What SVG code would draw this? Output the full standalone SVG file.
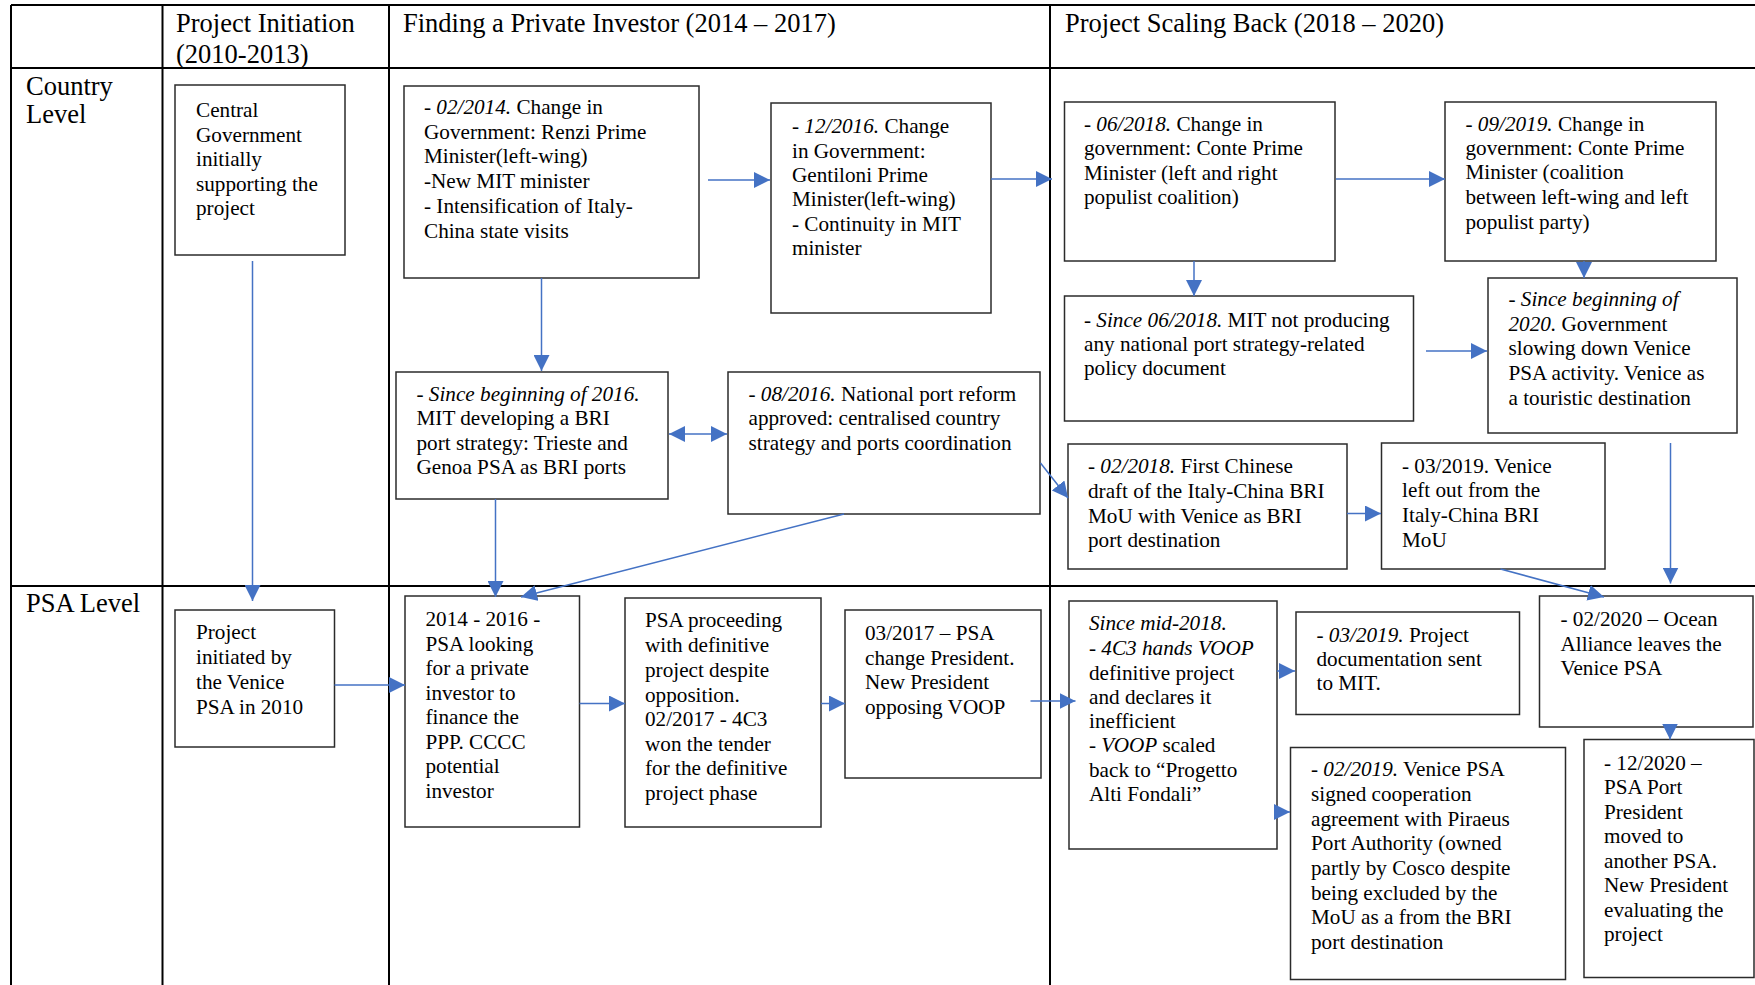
<svg xmlns="http://www.w3.org/2000/svg" width="1755" height="985" viewBox="0 0 1755 985">
<style>
.grid{stroke:#000;stroke-width:2;fill:none}
.box{fill:#fff;stroke:#2b2b2b;stroke-width:1.5}
.hd{font-family:"Liberation Serif","Times New Roman",serif;font-size:26.5px;fill:#000}
.t{font-family:"Liberation Serif","Times New Roman",serif;font-size:21.2px;fill:#000}
.i{font-style:italic}
.c{stroke:#4472C4;stroke-width:1.5;fill:none;marker-end:url(#ah)}
.d{stroke:#4472C4;stroke-width:1.5;fill:none;marker-end:url(#ah);marker-start:url(#ah)}
</style>
<defs>
<marker id="ah" viewBox="0 0 16 16" refX="16" refY="8" markerWidth="16" markerHeight="16" markerUnits="userSpaceOnUse" orient="auto-start-reverse">
<path d="M0,0 L16,8 L0,16 z" fill="#4472C4"/>
</marker>
</defs>
<rect width="1755" height="985" fill="#fff"/>
<g id="table">
<path class="grid" d="M11,5 H1755 M11,68 H1755 M11,586 H1755 M11,5 V985 M162.5,5 V985 M389,5 V985 M1050,5 V985"/>
<text class="hd" x="176" y="31.5">Project Initiation</text>
<text class="hd" x="176" y="62.5">(2010-2013)</text>
<text class="hd" x="403" y="31.5">Finding a Private Investor (2014 – 2017)</text>
<text class="hd" x="1065" y="31.5">Project Scaling Back (2018 – 2020)</text>
<text class="hd" x="26" y="94.5">Country</text>
<text class="hd" x="26" y="123">Level</text>
<text class="hd" x="26" y="611.5">PSA Level</text>
</g>
<g id="nodeA">
<rect class="box" x="175" y="85" width="170" height="170"/>
<text class="t"><tspan x="196" y="117">Central</tspan><tspan x="196" y="141.5">Government</tspan><tspan x="196" y="166">initially</tspan><tspan x="196" y="190.5">supporting the</tspan><tspan x="196" y="215">project</tspan></text>
</g>
<g id="nodeB">
<rect class="box" x="404" y="86" width="295" height="192"/>
<text class="t"><tspan x="424" y="114">- <tspan class="i">02/2014.</tspan> Change in</tspan><tspan x="424" y="138.5">Government: Renzi Prime</tspan><tspan x="424" y="163">Minister(left-wing)</tspan><tspan x="424" y="188">-New MIT minister</tspan><tspan x="424" y="213">- Intensification of Italy-</tspan><tspan x="424" y="237.5">China state visits</tspan></text>
</g>
<g id="nodeC">
<rect class="box" x="771" y="103" width="220" height="210"/>
<text class="t"><tspan x="792" y="133">- <tspan class="i">12/2016.</tspan> Change</tspan><tspan x="792" y="157.5">in Government:</tspan><tspan x="792" y="182">Gentiloni Prime</tspan><tspan x="792" y="206">Minister(left-wing)</tspan><tspan x="792" y="230.5">- Continuity in MIT</tspan><tspan x="792" y="255">minister</tspan></text>
</g>
<g id="nodeD">
<rect class="box" x="1064.5" y="102" width="270.5" height="159"/>
<text class="t"><tspan x="1084" y="130.5">- <tspan class="i">06/2018.</tspan> Change in</tspan><tspan x="1084" y="155">government: Conte Prime</tspan><tspan x="1084" y="180">Minister (left and right</tspan><tspan x="1084" y="204">populist coalition)</tspan></text>
</g>
<g id="nodeE">
<rect class="box" x="1445" y="102" width="271" height="159"/>
<text class="t"><tspan x="1465.5" y="130.5">- <tspan class="i">09/2019.</tspan> Change in</tspan><tspan x="1465.5" y="154.5">government: Conte Prime</tspan><tspan x="1465.5" y="179">Minister (coalition</tspan><tspan x="1465.5" y="204">between left-wing and left</tspan><tspan x="1465.5" y="228.5">populist party)</tspan></text>
</g>
<g id="nodeF">
<rect class="box" x="1064.5" y="296" width="349" height="125"/>
<text class="t"><tspan x="1084" y="326.5">- <tspan class="i">Since 06/2018.</tspan> MIT not producing</tspan><tspan x="1084" y="350.5">any national port strategy-related</tspan><tspan x="1084" y="374.5">policy document</tspan></text>
</g>
<g id="nodeG">
<rect class="box" x="1488" y="278" width="249" height="155"/>
<text class="t"><tspan x="1508.5" y="306">- <tspan class="i">Since beginning of</tspan></tspan><tspan x="1508.5" y="330.5"><tspan class="i">2020.</tspan> Government</tspan><tspan x="1508.5" y="355">slowing down Venice</tspan><tspan x="1508.5" y="380">PSA activity. Venice as</tspan><tspan x="1508.5" y="404.5">a touristic destination</tspan></text>
</g>
<g id="nodeH">
<rect class="box" x="396" y="372" width="272" height="127"/>
<text class="t"><tspan x="416.5" y="400.5">- <tspan class="i">Since beginning of 2016.</tspan></tspan><tspan x="416.5" y="425">MIT developing a BRI</tspan><tspan x="416.5" y="449.5">port strategy: Trieste and</tspan><tspan x="416.5" y="474">Genoa PSA as BRI ports</tspan></text>
</g>
<g id="nodeI">
<rect class="box" x="728" y="372" width="312" height="142"/>
<text class="t"><tspan x="748.5" y="400.5">- <tspan class="i">08/2016.</tspan> National port reform</tspan><tspan x="748.5" y="425">approved: centralised country</tspan><tspan x="748.5" y="449.5">strategy and ports coordination</tspan></text>
</g>
<g id="nodeJ">
<rect class="box" x="1068" y="444" width="279" height="125"/>
<text class="t"><tspan x="1088" y="472.5">- <tspan class="i">02/2018.</tspan> First Chinese</tspan><tspan x="1088" y="497.5">draft of the Italy-China BRI</tspan><tspan x="1088" y="522.5">MoU with Venice as BRI</tspan><tspan x="1088" y="547">port destination</tspan></text>
</g>
<g id="nodeK">
<rect class="box" x="1381.5" y="443" width="223.5" height="126"/>
<text class="t"><tspan x="1402" y="472.5">- 03/2019. Venice</tspan><tspan x="1402" y="497">left out from the</tspan><tspan x="1402" y="521.5">Italy-China BRI</tspan><tspan x="1402" y="546.5">MoU</tspan></text>
</g>
<g id="nodeL">
<rect class="box" x="175" y="610" width="159.5" height="137"/>
<text class="t"><tspan x="196" y="638.5">Project</tspan><tspan x="196" y="663.5">initiated by</tspan><tspan x="196" y="689">the Venice</tspan><tspan x="196" y="713.5">PSA in 2010</tspan></text>
</g>
<g id="nodeM">
<rect class="box" x="405" y="596" width="174.5" height="231"/>
<text class="t"><tspan x="425.5" y="626">2014 - 2016 -</tspan><tspan x="425.5" y="650.5">PSA looking</tspan><tspan x="425.5" y="675">for a private</tspan><tspan x="425.5" y="699.5">investor to</tspan><tspan x="425.5" y="724">finance the</tspan><tspan x="425.5" y="748.5">PPP. CCCC</tspan><tspan x="425.5" y="773">potential</tspan><tspan x="425.5" y="798">investor</tspan></text>
</g>
<g id="nodeN">
<rect class="box" x="625" y="598" width="196" height="229"/>
<text class="t"><tspan x="645" y="627">PSA proceeding</tspan><tspan x="645" y="651.5">with definitive</tspan><tspan x="645" y="676.5">project despite</tspan><tspan x="645" y="701.5">opposition.</tspan><tspan x="645" y="726">02/2017 - 4C3</tspan><tspan x="645" y="750.5">won the tender</tspan><tspan x="645" y="775">for the definitive</tspan><tspan x="645" y="800">project phase</tspan></text>
</g>
<g id="nodeP">
<rect class="box" x="845" y="610" width="196" height="168"/>
<text class="t"><tspan x="865" y="640">03/2017 – PSA</tspan><tspan x="865" y="664.5">change President.</tspan><tspan x="865" y="689">New President</tspan><tspan x="865" y="713.5">opposing VOOP</tspan></text>
</g>
<g id="nodeQ">
<rect class="box" x="1069" y="601" width="208" height="248"/>
<text class="t"><tspan x="1089" y="629.5" class="i">Since mid-2018.</tspan><tspan x="1089" y="654.5">- <tspan class="i">4C3 hands VOOP</tspan></tspan><tspan x="1089" y="679.5">definitive project</tspan><tspan x="1089" y="703.5">and declares it</tspan><tspan x="1089" y="727.5">inefficient</tspan><tspan x="1089" y="752">- <tspan class="i">VOOP</tspan> scaled</tspan><tspan x="1089" y="776.5">back to “Progetto</tspan><tspan x="1089" y="800.5">Alti Fondali”</tspan></text>
</g>
<g id="nodeR">
<rect class="box" x="1296" y="612" width="223.5" height="102.5"/>
<text class="t"><tspan x="1316.5" y="641.5">- <tspan class="i">03/2019.</tspan> Project</tspan><tspan x="1316.5" y="665.5">documentation sent</tspan><tspan x="1316.5" y="690">to MIT.</tspan></text>
</g>
<g id="nodeS">
<rect class="box" x="1290.5" y="747.5" width="275" height="232"/>
<text class="t"><tspan x="1311" y="776">- <tspan class="i">02/2019.</tspan> Venice PSA</tspan><tspan x="1311" y="801">signed cooperation</tspan><tspan x="1311" y="825.5">agreement with Piraeus</tspan><tspan x="1311" y="850">Port Authority (owned</tspan><tspan x="1311" y="875">partly by Cosco despite</tspan><tspan x="1311" y="899.5">being excluded by the</tspan><tspan x="1311" y="924">MoU as a from the BRI</tspan><tspan x="1311" y="948.5">port destination</tspan></text>
</g>
<g id="nodeO">
<rect class="box" x="1539.5" y="596" width="213.5" height="131"/>
<text class="t"><tspan x="1560.5" y="626">- 02/2020 – Ocean</tspan><tspan x="1560.5" y="650.5">Alliance leaves the</tspan><tspan x="1560.5" y="674.5">Venice PSA</tspan></text>
</g>
<g id="nodeT">
<rect class="box" x="1584" y="739.5" width="170" height="238"/>
<text class="t"><tspan x="1604" y="769.5">- 12/2020 –</tspan><tspan x="1604" y="794">PSA Port</tspan><tspan x="1604" y="818.5">President</tspan><tspan x="1604" y="843">moved to</tspan><tspan x="1604" y="867.5">another PSA.</tspan><tspan x="1604" y="892">New President</tspan><tspan x="1604" y="916.5">evaluating the</tspan><tspan x="1604" y="941">project</tspan></text>
</g>
<g id="connectors">
<path class="c" d="M252.5,261 V601"/>
<path class="c" d="M708,180 H770"/>
<path class="c" d="M991,179 H1052"/>
<path class="c" d="M1336,179 H1445"/>
<path class="c" d="M1194,261 V296"/>
<path class="c" d="M1584,261 V278"/>
<path class="c" d="M1426,351 H1487"/>
<path class="c" d="M1670.5,443 V583.5"/>
<path class="c" d="M541.5,278 V371"/>
<path class="d" d="M669,434 H727"/>
<path class="c" d="M1040.5,463 L1068,498"/>
<path class="c" d="M1347,513.5 H1381"/>
<path class="c" d="M1500.5,569 L1604,597"/>
<path class="c" d="M844,514 L521,597"/>
<path class="c" d="M495.5,499 V597"/>
<path class="c" d="M334.5,685 H405"/>
<path class="c" d="M579.5,703.5 H625"/>
<path class="c" d="M821,703.5 H845"/>
<path class="c" d="M1030.5,701 H1075.5"/>
<path class="c" d="M1277,671 H1295"/>
<path class="c" d="M1277,812 H1290"/>
<path class="c" d="M1670,727 V739.5"/>
</g>
</svg>
